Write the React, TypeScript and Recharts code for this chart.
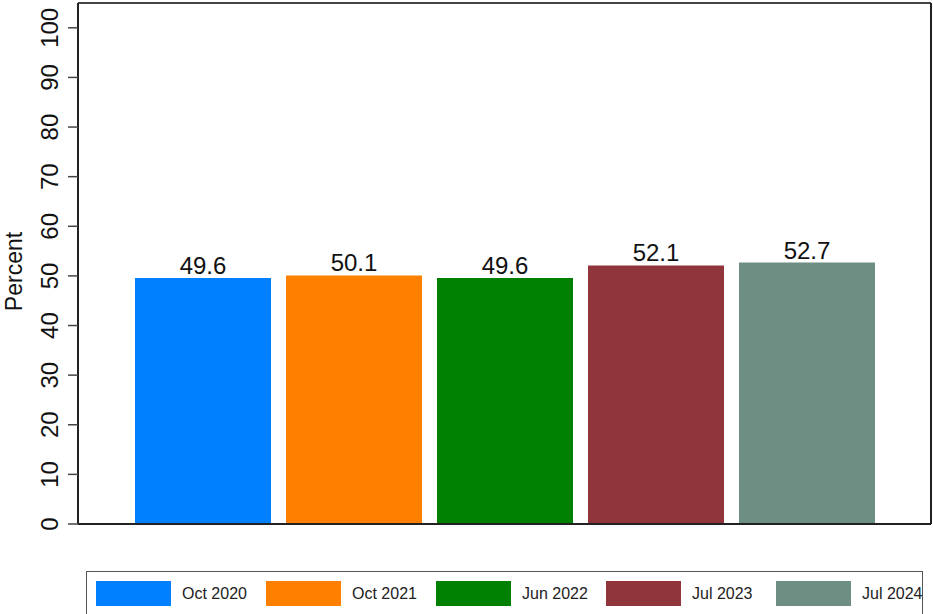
import React from "react"
import { BarChart, Bar, XAxis, YAxis, LabelList } from "recharts"

const periods = ["Oct 2020", "Oct 2021", "Jun 2022", "Jul 2023", "Jul 2024"]
const values = [49.6, 50.1, 49.6, 52.1, 52.7]
const colors = ["#0080ff", "#ff8000", "#008000", "#90353b", "#6e8e84"]
const yTicks = [0, 10, 20, 30, 40, 50, 60, 70, 80, 90, 100]

const keys = periods.map((_, i) => "s" + i)
const row: Record<string, number | string> = { name: "all" }
keys.forEach((k, i) => { row[k] = values[i] })
const data = [row]

const font = "'Liberation Sans', Arial, Helvetica, sans-serif"

const RotTick = (props: any) => {
  const { x, y, payload } = props
  const bx = x - 8
  return (
    <text x={bx} y={y} transform={`rotate(-90, ${bx}, ${y})`} textAnchor="middle"
      fontSize={24} fill="#111" fontFamily={font}>
      {payload.value}
    </text>
  )
}

export default function App() {
  return (
    <div style={{ position: "relative", width: 933, height: 614, background: "#fff", fontFamily: font }}>
      <style>{`body{margin:0}`}</style>
      <BarChart width={933} height={614} data={data}
        margin={{ top: 2, right: 1, left: 0, bottom: 89 }}
        barCategoryGap={58} barGap={15}>
        <XAxis dataKey="name" tick={false} tickLine={false} height={1}
          axisLine={{ stroke: "#222", strokeWidth: 2 }} />
        <XAxis xAxisId="top" orientation="top" dataKey="name" tick={false} tickLine={false} height={1}
          axisLine={{ stroke: "#444", strokeWidth: 2 }} />
        <YAxis domain={[0, 105]} ticks={yTicks} width={78} tickSize={10}
          tick={<RotTick />} interval={0}
          tickLine={{ stroke: "#444", strokeWidth: 1.5 }}
          axisLine={{ stroke: "#222", strokeWidth: 2 }}
          label={{ value: "Percent", angle: -90, position: "insideLeft", dx: 9, dy: 8,
            style: { fontSize: 23, fill: "#111", fontFamily: font, textAnchor: "middle" } }} />
        <YAxis yAxisId="right" orientation="right" width={1} tick={false} tickLine={false}
          domain={[0, 105]} axisLine={{ stroke: "#222", strokeWidth: 2 }} />
        {keys.map((k, i) => (
          <Bar key={k} dataKey={k} fill={colors[i]} isAnimationActive={false} barSize={136}>
            <LabelList dataKey={k} position="top" offset={4} fill="#111" fontSize={24} fontFamily={font} />
          </Bar>
        ))}
      </BarChart>
      <div style={{
        position: "absolute", left: 86, top: 571, width: 837, height: 48,
        border: "1.5px solid #555", boxSizing: "border-box", display: "flex",
        paddingLeft: 9, paddingTop: 9,
      }}>
        {periods.map((p, i) => (
          <div key={p} style={{ display: "flex", alignItems: "flex-start", width: 170, flexShrink: 0 }}>
            <div style={{ width: 75, height: 25, background: colors[i], flexShrink: 0 }} />
            <span style={{ marginLeft: 11, fontSize: 16, color: "#222", lineHeight: "25px", whiteSpace: "nowrap" }}>{p}</span>
          </div>
        ))}
      </div>
    </div>
  )
}
